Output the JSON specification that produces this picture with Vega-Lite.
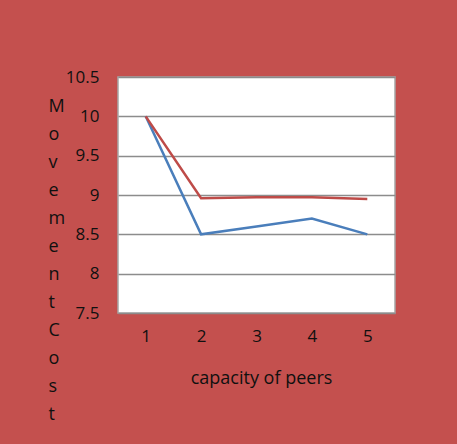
{
  "$schema": "https://vega.github.io/schema/vega-lite/v6.json",
  "width": 277,
  "height": 236,
  "autosize": {"type": "none"},
  "padding": {"left": 118, "top": 77, "right": 62, "bottom": 131},
  "background": "#C4504E",
  "data": {
    "values": [
      {"capacity": "1", "series": "S1", "cost": 10},
      {"capacity": "2", "series": "S1", "cost": 8.5},
      {"capacity": "3", "series": "S1", "cost": 8.6},
      {"capacity": "4", "series": "S1", "cost": 8.7},
      {"capacity": "5", "series": "S1", "cost": 8.5},
      {"capacity": "1", "series": "S2", "cost": 10},
      {"capacity": "2", "series": "S2", "cost": 8.96},
      {"capacity": "3", "series": "S2", "cost": 8.97},
      {"capacity": "4", "series": "S2", "cost": 8.97},
      {"capacity": "5", "series": "S2", "cost": 8.95}
    ]
  },
  "mark": {"type": "line", "strokeWidth": 2.5},
  "encoding": {
    "x": {
      "field": "capacity",
      "type": "ordinal",
      "scale": {"type": "point", "padding": 0.5},
      "axis": {
        "title": "capacity of peers",
        "labelAngle": 0,
        "domain": false,
        "ticks": false,
        "labelPadding": 15,
        "labelBaseline": "top",
        "labelFont": "Open Sans",
        "labelFontSize": 17,
        "labelColor": "#101010",
        "titleFont": "Open Sans",
        "titleFontSize": 18,
        "titleFontWeight": "normal",
        "titleColor": "#101010",
        "titleBaseline": "alphabetic",
        "titleX": 143,
        "titleY": 70
      }
    },
    "y": {
      "field": "cost",
      "type": "quantitative",
      "scale": {"domain": [7.5, 10.5], "zero": false, "nice": false},
      "axis": {
        "values": [7.5, 8, 8.5, 9, 9.5, 10, 10.5],
        "format": ".3~g",
        "title": ["M", "o", "v", "e", "m", "e", "n", "t", "C", "o", "s", "t"],
        "titleAngle": 0,
        "titleAlign": "left",
        "titleBaseline": "alphabetic",
        "titleX": -70,
        "titleY": 34,
        "titleLineHeight": 28,
        "titleFont": "Open Sans",
        "titleFontSize": 18,
        "titleFontWeight": "normal",
        "titleColor": "#101010",
        "domain": false,
        "ticks": false,
        "labelPadding": 19,
        "labelOverlap": false,
        "labelFont": "Open Sans",
        "labelFontSize": 17,
        "labelColor": "#101010",
        "grid": true,
        "gridColor": "#8c8c8c",
        "gridWidth": 1.5
      }
    },
    "color": {
      "field": "series",
      "type": "nominal",
      "scale": {"domain": ["S1", "S2"], "range": ["#4A7EBB", "#BE4B48"]},
      "legend": null
    }
  },
  "config": {
    "view": {"fill": "white", "stroke": "#a6a6a6", "strokeWidth": 1.5}
  }
}
